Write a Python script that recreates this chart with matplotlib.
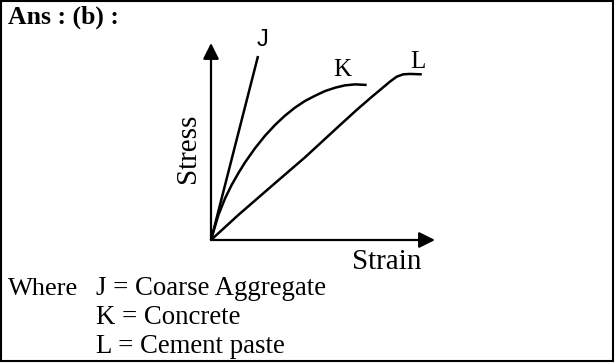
import matplotlib.pyplot as plt
from matplotlib.patches import Rectangle

# curve values (strain, stress in arbitrary units 0-10)
j_strain = [0, 2.10]
j_stress = [0, 9.34]

k_strain = [0, 0.33, 0.63, 0.92, 1.22, 1.52, 1.96, 2.41, 2.86, 3.30, 3.75,
            4.20, 4.64, 5.09, 5.54, 5.98, 6.43, 6.95]
k_stress = [0, 1.27, 2.12, 2.79, 3.39, 3.94, 4.65, 5.29, 5.84, 6.31, 6.72,
            7.06, 7.32, 7.56, 7.73, 7.85, 7.90, 7.87]

l_strain = [0, 1.22, 2.71, 4.20, 5.68, 6.50, 7.17, 7.54, 7.99, 8.29, 8.58, 8.88, 9.41]
l_stress = [0, 1.27, 2.74, 4.20, 5.75, 6.60, 7.26, 7.61, 8.04, 8.29, 8.41, 8.43, 8.41]

where_lines = ["J = Coarse Aggregate", "K = Concrete", "L = Cement paste"]

W, H = 616, 363
fig = plt.figure(figsize=(W / 100, H / 100), dpi=100)

# background axes in pixel units for text and frame
bg = fig.add_axes([0, 0, 1, 1])
bg.set_xlim(0, W)
bg.set_ylim(H, 0)
bg.axis('off')
bg.add_patch(Rectangle((1, 1), 612, 360, fill=False, lw=1.5, ec='black'))

serif = 'Liberation Serif'
bg.text(8, 23.5, "Ans : (b) :", fontfamily=serif, fontweight='bold', fontsize=18.5, va='baseline')
bg.text(8, 295, "Where", fontfamily=serif, fontsize=19, va='baseline')
for i, s in enumerate(where_lines):
    bg.text(96.5, 295 + i * 28.8, s, fontfamily=serif, fontsize=19.3, va='baseline')

# stress-strain diagram
ax = fig.add_axes([211 / W, (H - 240) / H, 224 / W, 197 / H])
ax.set_xlim(0, 10)
ax.set_ylim(0, 10)
ax.axis('off')

arr = dict(arrowstyle='-|>', lw=1.6, color='black', mutation_scale=24, shrinkA=0, shrinkB=0)
ax.annotate('', xy=(10, 0), xytext=(0, 0), arrowprops=arr, annotation_clip=False)
ax.annotate('', xy=(0, 10), xytext=(0, 0), arrowprops=arr, annotation_clip=False)

for xs, ys in [(j_strain, j_stress), (k_strain, k_stress), (l_strain, l_stress)]:
    ax.plot(xs, ys, color='black', lw=1.8, clip_on=False, solid_capstyle='butt', solid_joinstyle='round')

ax.text(2.28, 10.15, "J", family=['Liberation Sans', 'DejaVu Sans'], fontsize=17, ha='center', va='center')
ax.text(5.84, 8.63, "K", fontfamily=serif, fontsize=18, ha='center', va='center')
ax.text(9.25, 9.05, "L", fontfamily=serif, fontsize=18, ha='center', va='center')
ax.text(-1.03, 4.65, "Stress", fontfamily=serif, fontsize=21, rotation=90, ha='center', va='center')
ax.text(7.83, -1.14, "Strain", fontfamily=serif, fontsize=21, ha='center', va='center')

fig.savefig("out.png", dpi=100)
